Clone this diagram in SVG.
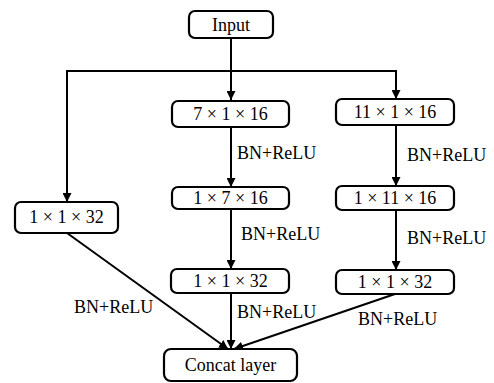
<svg xmlns="http://www.w3.org/2000/svg" width="494" height="383" viewBox="0 0 494 383">
<defs>
<style>
.box{fill:#fff;stroke:#000;stroke-width:2.2}
.t{font-family:'Liberation Serif','Times New Roman','DejaVu Serif',serif;font-size:18px;fill:#000}
.c{text-anchor:middle}
.ln{fill:none;stroke:#000;stroke-width:2}
</style>
<marker id="ah" viewBox="0 0 10 10" refX="10" refY="5" markerWidth="9" markerHeight="9" markerUnits="userSpaceOnUse" orient="auto">
<path d="M0,0 L10,5 L0,10 z" fill="#000"/>
</marker>
</defs>
<rect width="494" height="383" fill="#fff"/>
<g id="connectors">
<line class="ln" x1="231" y1="38" x2="231" y2="100" marker-end="url(#ah)"/>
<polyline class="ln" points="67,71 396,71 396,99" marker-end="url(#ah)"/>
<line class="ln" x1="67" y1="70" x2="67" y2="202" marker-end="url(#ah)"/>
<line class="ln" x1="231" y1="127" x2="231" y2="187" marker-end="url(#ah)"/>
<line class="ln" x1="231" y1="209" x2="231" y2="269" marker-end="url(#ah)"/>
<line class="ln" x1="231" y1="293" x2="231" y2="349" marker-end="url(#ah)"/>
<line class="ln" x1="396" y1="125" x2="396" y2="186" marker-end="url(#ah)"/>
<line class="ln" x1="396" y1="210" x2="396" y2="270" marker-end="url(#ah)"/>
<line class="ln" x1="67" y1="233" x2="228" y2="349" marker-end="url(#ah)"/>
<line class="ln" x1="395" y1="294" x2="234" y2="349" marker-end="url(#ah)"/>
<text class="t" x="237" y="159" font-family="Liberation Serif, serif">BN+ReLU</text>
<text class="t" x="241" y="240" font-family="Liberation Serif, serif">BN+ReLU</text>
<text class="t" x="407" y="161" font-family="Liberation Serif, serif">BN+ReLU</text>
<text class="t" x="407" y="244" font-family="Liberation Serif, serif">BN+ReLU</text>
<text class="t" x="74" y="313" font-family="Liberation Serif, serif">BN+ReLU</text>
<text class="t" x="237" y="318" font-family="Liberation Serif, serif">BN+ReLU</text>
<text class="t" x="358" y="325" font-family="Liberation Serif, serif">BN+ReLU</text>
</g>
<g id="input"><rect class="box" x="189" y="11" width="84" height="27" rx="6"/><text class="t c" x="231" y="31">Input</text></g>
<g id="b7x1"><rect class="box" x="172" y="101" width="117" height="26" rx="6"/><text class="t c" x="230.5" y="120">7 × 1 × 16</text></g>
<g id="b1x7"><rect class="box" x="172" y="187" width="117" height="22" rx="6"/><text class="t c" x="230.5" y="204">1 × 7 × 16</text></g>
<g id="b1x1m"><rect class="box" x="171" y="269" width="118" height="24" rx="6"/><text class="t c" x="230.5" y="287">1 × 1 × 32</text></g>
<g id="b11x1"><rect class="box" x="336" y="99" width="118" height="26" rx="6"/><text class="t c" x="395" y="118">11 × 1 × 16</text></g>
<g id="b1x11"><rect class="box" x="336" y="186" width="118" height="24" rx="6"/><text class="t c" x="395" y="204">1 × 11 × 16</text></g>
<g id="b1x1r"><rect class="box" x="336" y="270" width="118" height="24" rx="6"/><text class="t c" x="395" y="288">1 × 1 × 32</text></g>
<g id="b1x1l"><rect class="box" x="15" y="202" width="103" height="31" rx="6"/><text class="t c" x="66.5" y="223">1 × 1 × 32</text></g>
<g id="concat"><rect class="box" x="164" y="349" width="133" height="32" rx="7"/><text class="t c" x="230.5" y="371">Concat layer</text></g>
</svg>
